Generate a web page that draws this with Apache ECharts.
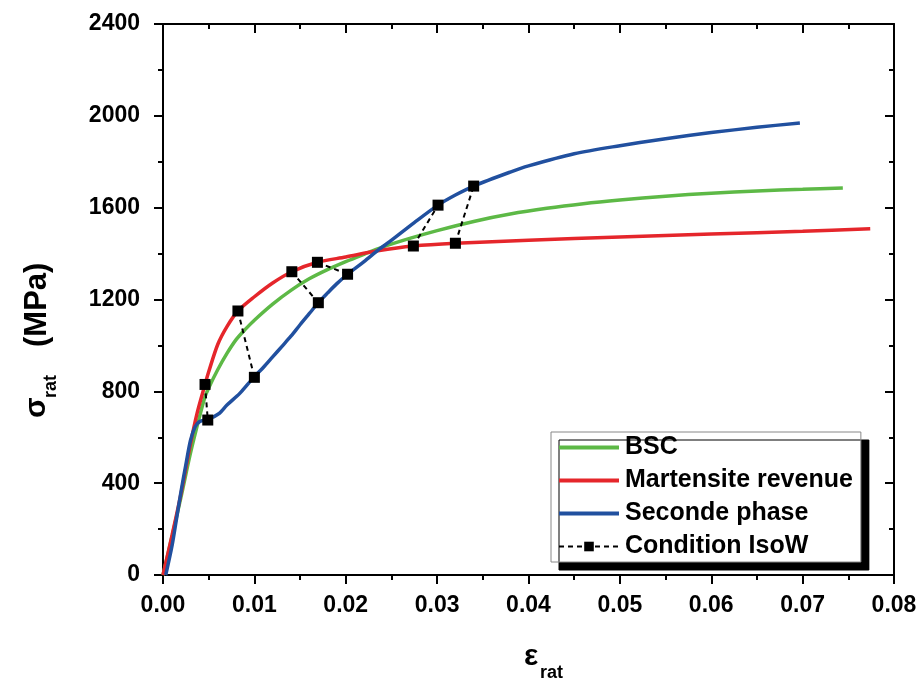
<!DOCTYPE html>
<html><head><meta charset="utf-8">
<script src="https://cdn.jsdelivr.net/npm/echarts/dist/echarts.min.js"></script>
<style>html,body{margin:0;padding:0;background:#fff}#c{width:920px;height:683px}</style>
</head><body><div id="c"></div>
<script>
const seriesNames = ['BSC', 'Martensite revenue', 'Seconde phase', 'Condition IsoW'];
const bsc = [[0,0],[0.001,170],[0.002,345],[0.003,530],[0.004,690],[0.0046,777],[0.005,815],[0.006,895],[0.007,965],[0.008,1025],[0.009,1070],[0.01,1110],[0.012,1180],[0.014,1240],[0.016,1290],[0.018,1330],[0.02,1365],[0.022,1397],[0.024,1428],[0.027,1466],[0.03,1500],[0.034,1540],[0.038,1572],[0.042,1597],[0.046,1617],[0.05,1633],[0.055,1650],[0.06,1663],[0.065,1673],[0.07,1680],[0.0744,1686]];
const martensite = [[0,0],[0.001,175],[0.002,360],[0.003,570],[0.0037,700],[0.0046,830],[0.005,885],[0.006,1005],[0.007,1082],[0.0082,1150],[0.01,1212],[0.012,1272],[0.0141,1321],[0.0169,1362],[0.02,1385],[0.0235,1412],[0.0274,1433],[0.032,1445],[0.04,1458],[0.05,1472],[0.06,1485],[0.07,1497],[0.0774,1508]];
const seconde = [[0.0003,0],[0.001,130],[0.0015,250],[0.002,370],[0.0025,480],[0.003,585],[0.0035,645],[0.004,668],[0.0049,677],[0.0055,688],[0.0062,705],[0.007,740],[0.0084,791],[0.0099,860],[0.011,905],[0.012,950],[0.013,995],[0.014,1040],[0.015,1090],[0.016,1138],[0.017,1186],[0.018,1228],[0.019,1268],[0.0202,1310],[0.022,1365],[0.0237,1420],[0.0248,1452],[0.0275,1535],[0.0301,1611],[0.032,1655],[0.034,1694],[0.038,1755],[0.04,1782],[0.045,1835],[0.05,1870],[0.055,1900],[0.06,1927],[0.065,1950],[0.0697,1969]];
const isoW = [
  [[0.0046,830],[0.0049,675]],
  [[0.0082,1150],[0.0100,861]],
  [[0.0141,1321],[0.0170,1186]],
  [[0.0169,1362],[0.0202,1310]],
  [[0.0274,1433],[0.0301,1611]],
  [[0.0320,1445],[0.0340,1694]]
];
const xTicks = {min: 0, max: 0.08, step: 0.01};
const yTicks = {min: 0, max: 2400, step: 400};

const FF = "'Liberation Sans', Arial, sans-serif";
const chart = echarts.init(document.getElementById('c'), null, {renderer: 'canvas'});

function axisBase(extra) {
  return Object.assign({
    type: 'value',
    axisLine: {show: true, onZero: false, lineStyle: {color: '#000', width: 2}},
    splitLine: {show: false},
    axisTick: {show: true, inside: false, length: 9, lineStyle: {color: '#000', width: 2}},
    minorTick: {show: true, splitNumber: 2, length: 5, lineStyle: {color: '#000', width: 2}}
  }, extra);
}

const colors = ['#5DB946', '#E5262B', '#21509F'];
const curveSeries = [bsc, martensite, seconde].map((d, i) => ({
  type: 'line', name: seriesNames[i], data: d, smooth: 0.3, symbol: 'none',
  xAxisIndex: 0, yAxisIndex: 0,
  lineStyle: {color: colors[i], width: 3.5}, itemStyle: {color: colors[i]}, z: 3
}));

const isoSeries = isoW.map(pair => ({
  type: 'line', name: seriesNames[3], data: pair, symbol: 'rect', symbolSize: 11,
  xAxisIndex: 0, yAxisIndex: 0,
  lineStyle: {color: '#000', width: 2, type: [5, 4]}, itemStyle: {color: '#000'}, z: 5
}));

chart.setOption({
  animation: false,
  backgroundColor: '#fff',
  grid: {left: 163, right: 26, top: 24, bottom: 108},
  xAxis: [
    axisBase({min: xTicks.min, max: xTicks.max, interval: xTicks.step, position: 'bottom',
      axisLabel: {formatter: v => v.toFixed(2), fontSize: 23, fontWeight: 'bold', color: '#000', fontFamily: FF, margin: 19}}),
    axisBase({min: xTicks.min, max: xTicks.max, interval: xTicks.step, position: 'top',
      axisTick: {show: true, inside: true, length: 9, lineStyle: {color: '#000', width: 2}},
      axisLabel: {show: false}})
  ],
  yAxis: [
    axisBase({min: yTicks.min, max: yTicks.max, interval: yTicks.step, position: 'left',
      axisLabel: {formatter: v => String(v), fontSize: 23, fontWeight: 'bold', color: '#000', fontFamily: FF, margin: 23}}),
    axisBase({min: yTicks.min, max: yTicks.max, interval: yTicks.step, position: 'right',
      axisTick: {show: true, inside: true, length: 9, lineStyle: {color: '#000', width: 2}},
      axisLabel: {show: false}})
  ],
  legend: {
    orient: 'vertical', left: 551, top: 432,
    backgroundColor: '#fff', borderColor: '#888', borderWidth: 1,
    shadowColor: '#000', shadowOffsetX: 8, shadowOffsetY: 8, shadowBlur: 0.01,
    padding: [3, 8, 3, 6], itemGap: 8, itemWidth: 60, itemHeight: 12,
    textStyle: {fontSize: 25, fontWeight: 'bold', color: '#000', fontFamily: FF, padding: [0, 0, 0, 1]},
    data: seriesNames.map((n, i) => i < 3
      ? {name: n, itemStyle: {color: 'rgba(0,0,0,0)', borderWidth: 0, opacity: 0}, lineStyle: {width: 4}}
      : {name: n, lineStyle: {width: 2}})
  },
  graphic: [
    {type: 'group', x: 37, y: 418, rotation: Math.PI / 2, children: [
      {type: 'text', x: 0, y: 0, style: {text: 'σ', fontSize: 30, fontWeight: 'bold', fontFamily: FF, fill: '#000', align: 'left', verticalAlign: 'middle'}},
      {type: 'text', x: 20, y: 14, style: {text: 'rat', fontSize: 18, fontWeight: 'bold', fontFamily: FF, fill: '#000', align: 'left', verticalAlign: 'middle'}},
      {type: 'text', x: 71, y: 0, style: {text: '(MPa)', fontSize: 31, fontWeight: 'bold', fontFamily: FF, fill: '#000', align: 'left', verticalAlign: 'middle'}}
    ]},
    {type: 'text', x: 524, y: 657, style: {text: 'ε', fontSize: 30, fontWeight: 'bold', fontFamily: FF, fill: '#000', align: 'left', verticalAlign: 'middle'}},
    {type: 'text', x: 540, y: 673, style: {text: 'rat', fontSize: 18, fontWeight: 'bold', fontFamily: FF, fill: '#000', align: 'left', verticalAlign: 'middle'}}
  ],
  series: curveSeries.concat(isoSeries)
});
</script>
</body></html>
